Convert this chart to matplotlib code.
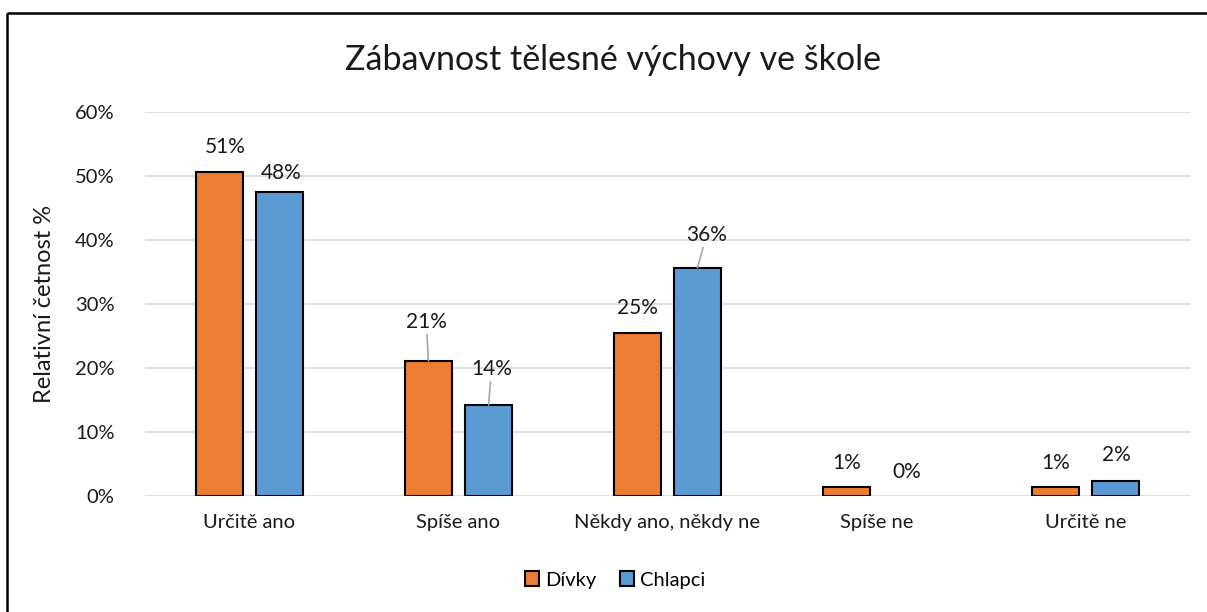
import matplotlib.pyplot as plt
from matplotlib.lines import Line2D
import numpy as np

categories = ['Určitě ano', 'Spíše ano', 'Někdy ano, někdy ne', 'Spíše ne', 'Určitě ne']
divky = [0.507, 0.211, 0.254, 0.014, 0.014]
chlapci = [0.476, 0.142, 0.357, 0.0, 0.023]
yticks = [0, 0.1, 0.2, 0.3, 0.4, 0.5, 0.6]

# label offsets (pixels from bar top) and whether a leader line is drawn
divky_off = [(6, 25), (-2, 39), (0, 25), (0, 24), (0, 24)]
chlapci_off = [(2, 19), (3, 36), (9, 33), (0, 24), (1, 26)]
divky_lead = [False, True, False, False, False]
chlapci_lead = [False, True, True, False, False]

plt.rcParams['font.family'] = ['Lato', 'DejaVu Sans']

fig = plt.figure(figsize=(12.07, 6.12), dpi=100)
ax = fig.add_axes([0.1201, 0.190, 0.8658, 0.6262])

x = np.arange(len(categories))
w = 0.225
off = 0.144
b1 = ax.bar(x - off, divky, w, color='#ED7D31', edgecolor='black', linewidth=1.5, label='Dívky', zorder=3)
b2 = ax.bar(x + off, chlapci, w, color='#5B9BD5', edgecolor='black', linewidth=1.5, label='Chlapci', zorder=3)
for bar, v in zip(list(b1) + list(b2), divky + chlapci):
    if v == 0:
        bar.set_linewidth(0)

def label(bars, vals, offs, leads):
    for bar, v, (dx, dy), lead in zip(bars, vals, offs, leads):
        bx = bar.get_x() + bar.get_width() / 2
        kw = {}
        if lead:
            kw['arrowprops'] = dict(arrowstyle='-', color='#A6A6A6', lw=1.2, shrinkA=0, shrinkB=0)
        ax.annotate(f'{round(v * 100):.0f}%', xy=(bx, v), xytext=(dx, dy),
                    textcoords='offset pixels', ha='center', va='center',
                    fontsize=15, color='#1a1a1a', zorder=4, **kw)

label(b1, divky, divky_off, divky_lead)
label(b2, chlapci, chlapci_off, chlapci_lead)

ax.set_xlim(-0.5, len(categories) - 0.5)
ax.set_ylim(0, 0.6)
ax.set_yticks(yticks)
ax.set_yticklabels([f'{int(t * 100)}%' for t in yticks])
ax.set_xticks(x)
ax.set_xticklabels(categories)
ax.tick_params(axis='both', length=0, labelsize=14.5, colors='#1a1a1a')
ax.tick_params(axis='y', pad=22)
ax.tick_params(axis='x', pad=13)
ax.grid(axis='y', color='#D9D9D9', linewidth=1.2, zorder=0)
for s in ax.spines.values():
    s.set_visible(False)
ax.set_ylabel('Relativní četnost %', fontsize=17, color='#1a1a1a', labelpad=14)

fig.text(0.508, 0.902, 'Zábavnost tělesné výchovy ve škole', ha='center', va='center',
         fontsize=24.5, color='#1a1a1a')

ax.legend(loc='center', bbox_to_anchor=(0.45, -0.22), ncol=2, frameon=False,
          fontsize=14.5, handlelength=0.7, handleheight=0.7, handletextpad=0.3,
          columnspacing=1.2)

# outer chart frame
fig.add_artist(Line2D([7 / 1207, 7 / 1207], [0, 1 - 13 / 612], color='black', lw=1.8,
                      solid_capstyle='butt'))
fig.add_artist(Line2D([7 / 1207, 1.01], [1 - 13 / 612, 1 - 13 / 612], color='black', lw=1.8,
                      solid_capstyle='butt'))

fig.savefig('out.png', dpi=100)
